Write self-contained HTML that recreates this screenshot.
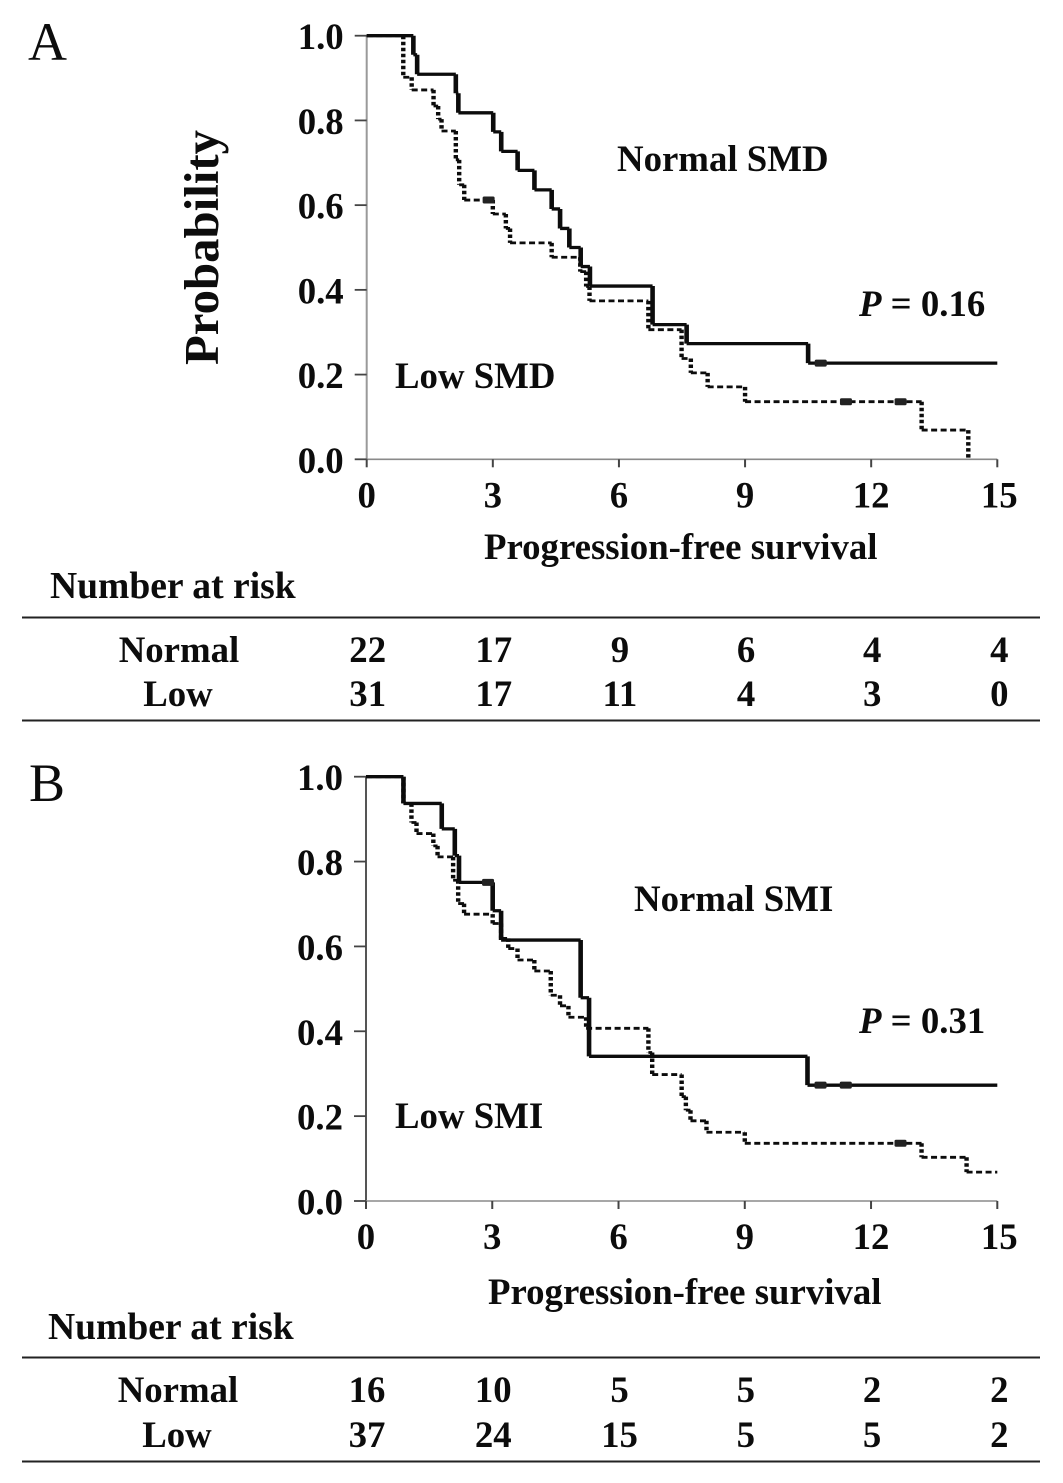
<!DOCTYPE html>
<html lang="en">
<head>
<meta charset="utf-8">
<title>Kaplan-Meier progression-free survival curves</title>
<style>
html,body{margin:0;padding:0;background:#fff;width:1063px;height:1483px;overflow:hidden}
svg{display:block}
text{font-family:"Liberation Serif",serif;font-weight:bold;fill:#0c0c0c;font-size:36.8px}
</style>
</head>
<body>
<svg id="figure" xmlns="http://www.w3.org/2000/svg" width="1063" height="1483" viewBox="0 0 1063 1483">
  <rect x="0" y="0" width="1063" height="1483" fill="#fff"/>

  <g id="panel-a">
    <text x="28" y="60" style="font-weight:normal;font-size:54px">A</text>
    <text transform="translate(218,365) rotate(-90)" style="font-size:48.8px">Probability</text>
    <text x="617" y="171">Normal SMD</text>
    <text x="395" y="388">Low SMD</text>
    <text x="859" y="316"><tspan style="font-style:italic">P</tspan> = 0.16</text>
    <text x="484" y="559">Progression-free survival</text>
    <text x="50" y="598" style="font-size:37.6px">Number at risk</text>
    <line x1="22" x2="1040" y1="617.5" y2="617.5" stroke="#222" stroke-width="2"/>
    <line x1="22" x2="1040" y1="720.5" y2="720.5" stroke="#222" stroke-width="2"/>
  </g>

  <g id="panel-b">
    <text x="29" y="801" style="font-weight:normal;font-size:54px">B</text>
    <text x="634" y="911">Normal SMI</text>
    <text x="395" y="1128">Low SMI</text>
    <text x="859" y="1033"><tspan style="font-style:italic">P</tspan> = 0.31</text>
    <text x="488" y="1304">Progression-free survival</text>
    <text x="48" y="1339" style="font-size:37.6px">Number at risk</text>
    <line x1="22" x2="1040" y1="1357.5" y2="1357.5" stroke="#222" stroke-width="2"/>
    <line x1="22" x2="1040" y1="1461.5" y2="1461.5" stroke="#222" stroke-width="2"/>
  </g>
</svg>

<script>
// Shared axis labels
const xTickValues = [0, 3, 6, 9, 12, 15];
const yTickValues = [0, 0.2, 0.4, 0.6, 0.8, 1];
const yTickLabels = ["0.0", "0.2", "0.4", "0.6", "0.8", "1.0"];
const riskRowNames = ["Normal", "Low"];

// Panel A: Normal SMD
const aNormalTimes = [1.11, 1.2, 2.12, 2.18, 3.01, 3.2, 3.59, 3.99, 4.4, 4.6, 4.82, 5.09, 5.31, 6.8, 7.61, 10.5];
const aNormalSurvival = [0.955, 0.909, 0.864, 0.818, 0.773, 0.727, 0.682, 0.636, 0.591, 0.545, 0.5, 0.455, 0.409, 0.318, 0.273, 0.227];
const aNormalCensorTimes = [10.8];
const aNormalEnd = 15;

// Panel A: Low SMD
const aLowTimes = [0.87, 1.07, 1.59, 1.7, 1.78, 2.12, 2.2, 2.32, 3.0, 3.31, 3.41, 4.4, 5.08, 5.22, 5.3, 6.7, 7.49, 7.71, 8.11, 9.0, 13.2, 14.31];
const aLowSurvival = [0.902, 0.872, 0.834, 0.803, 0.775, 0.707, 0.648, 0.612, 0.579, 0.545, 0.511, 0.477, 0.443, 0.408, 0.374, 0.306, 0.238, 0.204, 0.171, 0.136, 0.069, 0];
const aLowCensorTimes = [2.9, 11.4, 12.7];
const aLowEnd = 14.31;

// Panel A: numbers at risk
const aRiskNormal = [22, 17, 9, 6, 4, 4];
const aRiskLow = [31, 17, 11, 4, 3, 0];

// Panel B: Normal SMI
const bNormalTimes = [0.89, 1.8, 2.11, 2.21, 3.01, 3.21, 5.1, 5.3, 10.49];
const bNormalSurvival = [0.937, 0.877, 0.814, 0.751, 0.684, 0.615, 0.479, 0.341, 0.273];
const bNormalCensorTimes = [2.9, 10.8, 11.4];
const bNormalEnd = 15;

// Panel B: Low SMI
const bLowTimes = [0.89, 1.08, 1.2, 1.6, 1.7, 2.07, 2.19, 2.33, 3.01, 3.21, 3.38, 3.6, 4.0, 4.39, 4.61, 4.81, 5.23, 6.71, 6.8, 7.5, 7.6, 7.71, 8.09, 9.0, 13.2, 14.27];
const bLowSurvival = [0.937, 0.892, 0.866, 0.837, 0.811, 0.756, 0.701, 0.676, 0.654, 0.619, 0.595, 0.568, 0.542, 0.485, 0.46, 0.433, 0.407, 0.35, 0.298, 0.246, 0.214, 0.189, 0.162, 0.136, 0.103, 0.068];
const bLowCensorTimes = [12.7];
const bLowEnd = 15;

// Panel B: numbers at risk
const bRiskNormal = [16, 10, 5, 5, 2, 2];
const bRiskLow = [37, 24, 15, 5, 5, 2];

const SVG_NS = "http://www.w3.org/2000/svg";

function makeAxes(x0, x15, y0, y1) {
  return {
    x: function (t) { return x0 + (t / 15) * (x15 - x0); },
    y: function (s) { return y0 - s * (y0 - y1); },
    y0: y0
  };
}

function addLine(parent, x1, y1, x2, y2, color, width, name) {
  const el = document.createElementNS(SVG_NS, "line");
  el.setAttribute("x1", x1);
  el.setAttribute("y1", y1);
  el.setAttribute("x2", x2);
  el.setAttribute("y2", y2);
  el.setAttribute("stroke", color);
  el.setAttribute("stroke-width", width);
  
  
  parent.appendChild(el);
}

function addText(parent, x, y, anchor, content, name) {
  const el = document.createElementNS(SVG_NS, "text");
  el.setAttribute("x", x);
  el.setAttribute("y", y);
  el.setAttribute("text-anchor", anchor);
  el.textContent = content;
  
  
  parent.appendChild(el);
}

function drawAxes(parent, ax, axisColor) {
  addLine(parent, ax.x(0), ax.y(1), ax.x(0), ax.y(0), axisColor, 2, "y-axis-line");
  addLine(parent, ax.x(0), ax.y(0), ax.x(15), ax.y(0), "#8a8a8a", 1.6, "x-axis-line");
  yTickValues.forEach(function (v, i) {
    addLine(parent, ax.x(0) - 12, ax.y(v), ax.x(0), ax.y(v), "#444", 1.8, "y-tick");
    addText(parent, ax.x(0) - 23, ax.y(v) + 13.5, "end", yTickLabels[i], "y-tick-label");
  });
  xTickValues.forEach(function (v) {
    addLine(parent, ax.x(v), ax.y(0), ax.x(v), ax.y(0) + 8, "#444", 2, "x-tick");
    addText(parent, ax.x(v) + (v === 15 ? 2 : 0), ax.y(0) + 48, "middle", String(v), "x-tick-label");
  });
}

function drawCurve(parent, ax, times, survival, end, censorTimes, dashed, name) {
  let hPath = "";
  let vPath = "";
  let prevT = 0;
  let prevS = 1;
  times.forEach(function (t, i) {
    hPath += "M" + ax.x(prevT) + " " + ax.y(prevS) + "H" + ax.x(t);
    vPath += "M" + ax.x(t) + " " + ax.y(prevS) + "V" + ax.y(survival[i]);
    prevT = t;
    prevS = survival[i];
  });
  if (end > prevT) {
    hPath += "M" + ax.x(prevT) + " " + ax.y(prevS) + "H" + ax.x(end);
  }

  const horizontal = document.createElementNS(SVG_NS, "path");
  horizontal.setAttribute("d", hPath);
  horizontal.setAttribute("fill", "none");
  horizontal.setAttribute("stroke", "#0c0c0c");
  horizontal.setAttribute("stroke-width", dashed ? 2.8 : 3.3);
  if (dashed) horizontal.setAttribute("stroke-dasharray", "6 3.5");
  
  
  parent.appendChild(horizontal);

  const vertical = document.createElementNS(SVG_NS, "path");
  vertical.setAttribute("d", vPath);
  vertical.setAttribute("fill", "none");
  vertical.setAttribute("stroke", "#0c0c0c");
  vertical.setAttribute("stroke-width", dashed ? 4.4 : 4.6);
  if (dashed) vertical.setAttribute("stroke-dasharray", "3.5 2.5");
  
  
  parent.appendChild(vertical);

  censorTimes.forEach(function (t) {
    let s = 1;
    times.forEach(function (tt, i) { if (tt <= t) s = survival[i]; });
    const mark = document.createElementNS(SVG_NS, "rect");
    mark.setAttribute("x", ax.x(t) - 6);
    mark.setAttribute("y", ax.y(s) - 3.5);
    mark.setAttribute("width", 12);
    mark.setAttribute("height", 7);
    mark.setAttribute("rx", 1.5);
    mark.setAttribute("fill", "#222");
    
    
    parent.appendChild(mark);
  });
}

function drawRiskTable(parent, ax, rowValues, rowY, nameX) {
  const cols = xTickValues.map(function (v) { return ax.x(v) + 1 + (v === 15 ? 1 : 0); });
  rowValues.forEach(function (row, r) {
    addText(parent, nameX[r], rowY[r], "middle", riskRowNames[r], "risk-row-name");
    row.forEach(function (val, c) {
      addText(parent, cols[c], rowY[r], "middle", String(val), "risk-count");
    });
  });
}

const axesA = makeAxes(366.7, 997.3, 459.3, 35.7);
const axesB = makeAxes(366, 997.3, 1201, 776.7);
const panelA = document.getElementById("panel-a");
const panelB = document.getElementById("panel-b");

drawAxes(panelA, axesA, "#9a9a9a");
drawCurve(panelA, axesA, aLowTimes, aLowSurvival, aLowEnd, aLowCensorTimes, true, "low-smd-curve");
drawCurve(panelA, axesA, aNormalTimes, aNormalSurvival, aNormalEnd, aNormalCensorTimes, false, "normal-smd-curve");
drawRiskTable(panelA, axesA, [aRiskNormal, aRiskLow], [662, 706], [179, 178]);

drawAxes(panelB, axesB, "#555");
drawCurve(panelB, axesB, bLowTimes, bLowSurvival, bLowEnd, bLowCensorTimes, true, "low-smi-curve");
drawCurve(panelB, axesB, bNormalTimes, bNormalSurvival, bNormalEnd, bNormalCensorTimes, false, "normal-smi-curve");
drawRiskTable(panelB, axesB, [bRiskNormal, bRiskLow], [1402, 1447], [178, 177]);
</script>
</body>
</html>
